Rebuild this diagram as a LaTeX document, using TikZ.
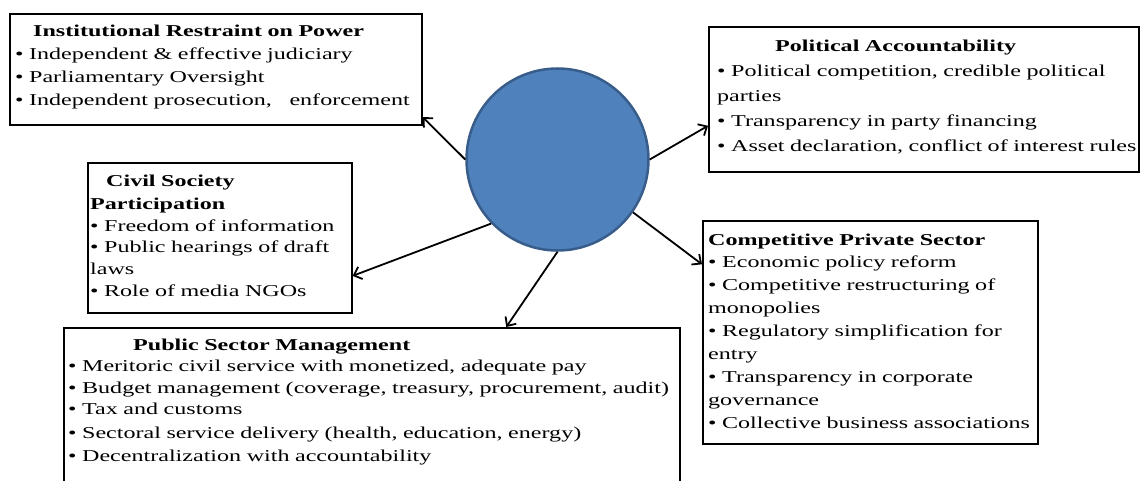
\documentclass[tikz,border=0pt]{standalone}
\usepackage{fontspec}
\setmainfont[FakeStretch=1.45]{Liberation Serif}
\usetikzlibrary{arrows.meta}
\definecolor{HubFill}{HTML}{4F81BD}
\definecolor{HubEdge}{HTML}{385D8A}

\begin{document}
\begin{tikzpicture}[
    x=1pt, y=-1pt,
    hub/.style={circle, draw=HubEdge, line width=2.5pt, fill=HubFill, minimum size=182pt, inner sep=0pt},
    box/.style={rectangle, draw=black, line width=1.6pt, inner sep=0pt, anchor=north west},
    txt/.style={anchor=base west, inner sep=0pt, align=left, text width=800pt, font=\fontsize{16.6}{#1}\selectfont},
    arrow/.style={-{Straight Barb[length=7pt, width=13pt]}, line width=1.8pt}
]
\useasboundingbox (0,0) rectangle (1140,481);
\clip (0,0) rectangle (1140,481);

% Centre circle
\node[hub] (hub) at (557.5,159.5) {};

% Frames
\node[box, minimum width=412pt, minimum height=111pt] (restraint) at (9,13) {};
\node[box, minimum width=430pt, minimum height=145pt] (political) at (708,26) {};
\node[box, minimum width=264pt, minimum height=150pt] (civil) at (87,162) {};
\node[box, minimum width=616pt, minimum height=173pt] (public) at (63,327) {};
\node[box, minimum width=335pt, minimum height=223pt] (private) at (702,220) {};

% Texts
\node[txt=23] (restraintText) at ([shift={(6,24)}]restraint.north west) {%
    \hspace*{18pt}\textbf{Institutional Restraint on Power}\\
    • Independent \& effective judiciary\\
    • Parliamentary Oversight\\
    • Independent prosecution,\hspace{12pt} enforcement};

\node[txt=25] (politicalText) at ([shift={(9,26)}]political.north west) {%
    \hspace*{58pt}\textbf{Political Accountability}\\
    • Political competition, credible political\\
    parties\\
    • Transparency in party financing\\
    • Asset declaration, conflict of interest rules};

\node[txt=22] (civilText) at ([shift={(3,25)}]civil.north west) {%
    \hspace*{16pt}\textbf{Civil Society}\\
    \textbf{Participation}\\
    • Freedom of information\\
    • Public hearings of draft\\
    laws\\
    • Role of media NGOs};

\node[txt=21] (publicText) at ([shift={(5,23)}]public.north west) {%
    \hspace*{65pt}\textbf{Public Sector Management}\\
    • Meritoric civil service with monetized, adequate pay\\[1pt]
    • Budget management (coverage, treasury, procurement, audit)\\
    • Tax and customs\\[3pt]
    • Sectoral service delivery (health, education, energy)\\[2pt]
    • Decentralization with accountability};

\node[txt=22.9] (privateText) at ([shift={(6,25)}]private.north west) {%
    \textbf{Competitive Private Sector}\\
    • Economic policy reform\\
    • Competitive restructuring of\\
    monopolies\\
    • Regulatory simplification for\\
    entry\\
    • Transparency in corporate\\
    governance\\
    • Collective business associations};

% Arrows
\draw[arrow] (hub.180) -- (restraint.-13.5);
\draw[arrow] (hub.0) -- (political.187.9);
\draw[arrow] (hub.224) -- (civil.-16.5);
\draw[arrow] (hub.270) -- (public.33.2);
\draw[arrow] (hub.-35) -- (private.158.2);

\end{tikzpicture}
\end{document}
